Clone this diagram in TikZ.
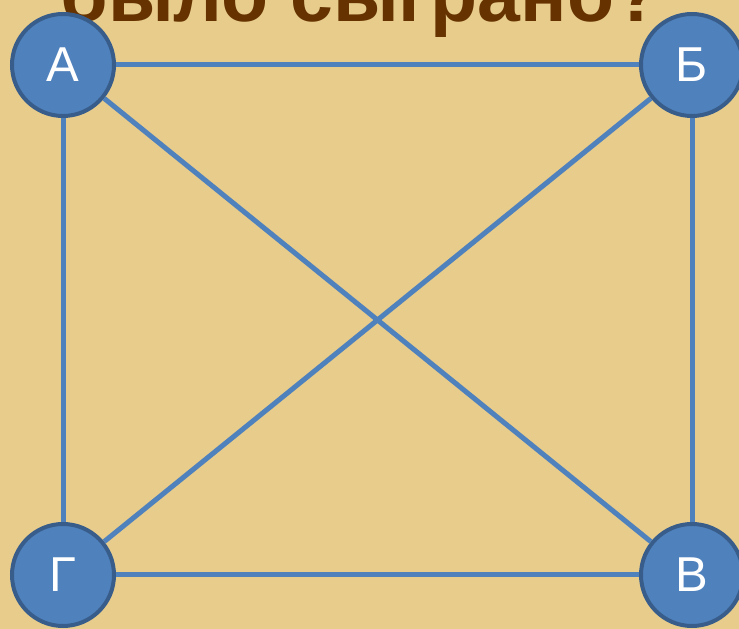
\documentclass[tikz,border=0pt]{standalone}
\usepackage{fontspec}
\setmainfont{Liberation Sans}
\definecolor{paper}{RGB}{231,204,140}
\definecolor{nodeblue}{RGB}{79,129,189}
\definecolor{rimblue}{RGB}{56,93,138}
\definecolor{titlebrown}{RGB}{102,51,0}

\begin{document}
\begin{tikzpicture}[x=1pt,y=1pt,
  vertex/.style={circle,draw=rimblue,line width=4pt,fill=nodeblue,minimum size=102pt,inner sep=0pt,text=white,font=\fontsize{49}{49}\selectfont},
  edge/.style={draw=nodeblue,line width=5pt}]
\useasboundingbox (0,0) rectangle (739,629);
\fill[paper] (0,0) rectangle (739,629);
\clip (0,0) rectangle (739,629);
\node[anchor=base,text=titlebrown,font=\fontsize{77}{80}\selectfont\bfseries,inner sep=0pt] (title) at (361,607) {было сыграно?};
\foreach \i/\x/\y/\lab in {a/63/564/А,b/692/564/Б,v/692/54/В,g/63/54/Г} {
  \node[vertex] (\i) at (\x,\y) {\lab};
}
\foreach \u/\w in {a/b,b/v,v/g,g/a,a/v,b/g} {
  \draw[edge] (\u) -- (\w);
}
\end{tikzpicture}
\end{document}
